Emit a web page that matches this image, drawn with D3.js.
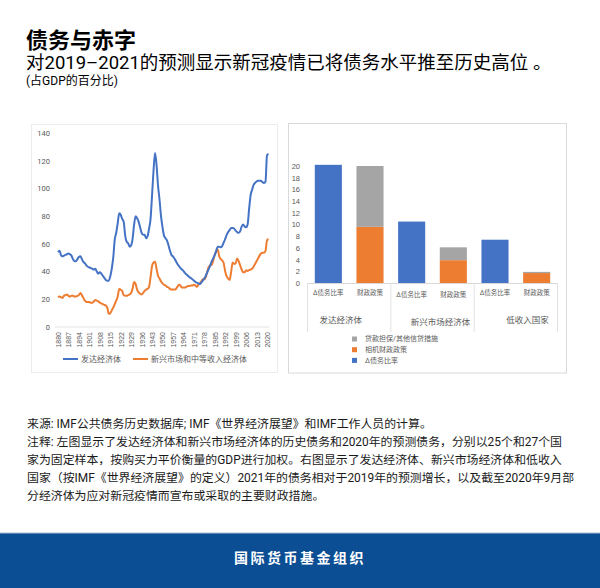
<!DOCTYPE html>
<html>
<head>
<meta charset="utf-8">
<script src="https://cdn.jsdelivr.net/npm/d3@7"></script>
<style>
  body { margin: 0; background: #fff; }
  svg { display: block; font-family: Roboto, 'Noto Sans CJK SC', sans-serif; }
</style>
</head>
<body>
<div id="chart"></div>
<script>
// left chart: public debt, % of GDP
const years = d3.range(1880, 2022);
const advanced = [
  54, 55, 52, 51, 51.5, 52, 52.5, 53, 52.5, 51.5,
  49, 47.5, 47.5, 49, 50.5, 51, 49, 47, 46, 44.5,
  43.5, 43, 42.5, 42, 41.5, 42, 40, 38.5, 39.5, 38.5,
  37, 35.5, 34, 33.3, 33.5, 36.5, 42, 50, 63, 68,
  75, 82, 81, 78, 76, 66, 61.5, 60.5, 58, 59,
  64, 74, 80, 78.5, 76, 72, 68, 66.5, 66.5, 64,
  65.5, 71, 78, 95, 113, 125.5, 117, 102, 92, 80,
  72, 66, 64, 62.5, 59, 55, 52, 51, 49.5, 47.5,
  45.5, 44, 42.5, 41.5, 40.5, 39, 38, 37, 36, 35.3,
  34.5, 33.5, 32.5, 32, 31.5, 31, 32, 33.5, 35, 37,
  39.5, 42, 44.5, 47.5, 49.5, 52, 55, 58, 58, 57.5,
  58.5, 61, 63.5, 66.5, 68.5, 70, 71.5, 71.5, 71, 69.5,
  68.5, 68, 69, 72.5, 74, 72.5, 72, 74, 85, 95,
  99, 102.5, 104, 105, 105.5, 105.5, 105.5, 104.5, 104, 105,
  124, 125
];
const emerging = [
  21.5, 22, 21.5, 21, 22.5, 23, 23.5, 22.5, 22, 22.5,
  22.5, 22, 22, 22.5, 23, 24.5, 23, 21, 19, 18,
  18, 18, 17.5, 17.5, 18.5, 19.5, 19, 18.5, 17.5, 17,
  16.5, 16, 15.5, 14, 9.5, 10, 12, 14, 16.5, 19,
  22, 27.5, 27, 26, 23, 22.5, 22.5, 23, 23.5, 24.5,
  28, 32.5, 31, 27, 25, 24, 23.5, 24.5, 26, 27,
  27.5, 29, 36, 44, 46.5, 47, 42, 37, 35, 33,
  31.5, 30.5, 30, 29, 28.5, 27.5, 27, 27, 27, 27.5,
  29, 30.5, 30, 28.5, 28.5, 28.5, 29, 29.5, 29.5, 30,
  30, 30.5, 30, 29, 30.5, 31.5, 33, 34.5, 34.5, 36,
  40, 43.5, 44.5, 45, 48, 52, 54.5, 56, 51, 49,
  48, 46, 40, 36.5, 35, 34, 40, 46.5, 45.5, 46,
  49.5, 47.5, 44.5, 41.5, 39.5, 39.5, 41, 40.5, 41, 41.5,
  42, 43.5, 45.5, 47.5, 49.5, 51.5, 53, 53.5, 53.5, 55,
  62.5, 63.5
];
const yearTicks = [1880, 1887, 1894, 1901, 1908, 1915, 1922, 1929, 1936, 1943,
  1950, 1957, 1964, 1971, 1978, 1985, 1992, 1999, 2006, 2013, 2020];
const debtTicks = [0, 20, 40, 60, 80, 100, 120, 140];
const lineNames = ['发达经济体', '新兴市场和中等收入经济体'];

// right chart: change in debt 2019-21 and fiscal measures
const groups = ['发达经济体', '新兴市场经济体', '低收入国家'];
const barLabels = ['Δ债务比率', '财政政策'];
const debtChange = [20.2, 10.5, 7.4];
const discretionary = [9.6, 3.9, 1.7];
const guarantees = [10.4, 2.2, 0.2];
const barTicks = [0, 2, 4, 6, 8, 10, 12, 14, 16, 18, 20];
const stackNames = ['Δ债务比率', '相机财政政策', '贷款担保/其他信贷措施'];

const notes = [
  '来源: IMF公共债务历史数据库; IMF《世界经济展望》和IMF工作人员的计算。',
  '注释: 左图显示了发达经济体和新兴市场经济体的历史债务和2020年的预测债务，分别以25个和27个国',
  '家为固定样本，按购买力平价衡量的GDP进行加权。右图显示了发达经济体、新兴市场经济体和低收入',
  '国家（按IMF《世界经济展望》的定义）2021年的债务相对于2019年的预测增长，以及截至2020年9月部',
  '分经济体为应对新冠疫情而宣布或采取的主要财政措施。'
];

const blue = '#4472c4';
const orange = '#ed7d31';
const grey = '#a5a5a5';
const axisText = '#595959';

const svg = d3.select('#chart').append('svg')
    .attr('width', 600)
    .attr('height', 588);

// header
svg.append('text')
    .attr('x', 26)
    .attr('y', 48)
    .attr('font-size', 22)
    .attr('font-weight', 'bold')
    .attr('fill', '#000')
    .text('债务与赤字');

svg.append('text')
    .attr('x', 26)
    .attr('y', 69)
    .attr('font-size', 18.5)
    .attr('fill', '#000')
    .text('对2019–2021的预测显示新冠疫情已将债务水平推至历史高位 。');

svg.append('text')
    .attr('x', 26)
    .attr('y', 85)
    .attr('font-size', 12)
    .attr('fill', '#000')
    .text('(占GDP的百分比)');

// ---- left chart ----
svg.append('rect')
    .attr('x', 31.5)
    .attr('y', 124.5)
    .attr('width', 246)
    .attr('height', 248)
    .attr('fill', '#fff')
    .attr('stroke', '#ececec');

const xLine = d3.scaleLinear()
    .domain([1880, 2021])
    .range([58, 268.5]);

const yLine = d3.scaleLinear()
    .domain([0, 140])
    .range([327, 133]);

const left = svg.append('g').attr('class', 'left-chart');

left.append('g')
    .attr('class', 'y axis')
    .attr('transform', 'translate(50, 0)')
    .call(d3.axisLeft(yLine).tickValues(debtTicks).tickSize(0).tickPadding(0))
    .call(g => g.select('.domain').remove())
  .selectAll('text')
    .attr('font-size', 7.5)
    .attr('fill', axisText)
    .attr('font-family', 'Roboto, sans-serif');

left.append('g')
    .attr('class', 'x axis')
    .attr('transform', `translate(0, ${yLine(0)})`)
    .call(d3.axisBottom(xLine).tickValues(yearTicks).tickSize(0).tickFormat(d3.format('d')))
    .call(g => g.select('.domain')
      .attr('d', `M${xLine(1880) - 3},0H${xLine(2021) + 1}`)
      .attr('stroke', '#e4e4e4'))
  .selectAll('text')
    .attr('font-size', 7)
    .attr('fill', axisText)
    .attr('transform', 'rotate(-90)')
    .attr('text-anchor', 'end')
    .attr('x', -5)
    .attr('y', 0)
    .attr('dy', '0.35em');

const line = d3.line()
    .x((d, i) => xLine(years[i]))
    .y(d => yLine(d))
    .curve(d3.curveMonotoneX);

left.append('path')
    .datum(emerging)
    .attr('fill', 'none')
    .attr('stroke', orange)
    .attr('stroke-width', 2)
    .attr('stroke-linejoin', 'round')
    .attr('d', line);

left.append('path')
    .datum(advanced)
    .attr('fill', 'none')
    .attr('stroke', blue)
    .attr('stroke-width', 2)
    .attr('stroke-linejoin', 'round')
    .attr('d', line);

const lineLegend = left.selectAll('.legend')
    .data(lineNames)
  .enter().append('g')
    .attr('class', 'legend')
    .attr('transform', (d, i) => `translate(${i === 0 ? 63 : 133}, 359)`);

lineLegend.append('line')
    .attr('x1', 0)
    .attr('x2', 15)
    .attr('stroke', (d, i) => (i === 0 ? blue : orange))
    .attr('stroke-width', 2);

lineLegend.append('text')
    .attr('x', 18)
    .attr('dy', '0.35em')
    .attr('font-size', 8)
    .attr('fill', axisText)
    .text(d => d);

// ---- right chart ----
svg.append('rect')
    .attr('x', 288.5)
    .attr('y', 123.5)
    .attr('width', 278)
    .attr('height', 249.5)
    .attr('fill', '#fff')
    .attr('stroke', '#d9d9d9');

const bars = [];
groups.forEach((g, i) => {
  bars.push({ id: `${i}-0`, group: g, label: barLabels[0], debt: debtChange[i], fiscal: 0, loans: 0 });
  bars.push({ id: `${i}-1`, group: g, label: barLabels[1], debt: 0, fiscal: discretionary[i], loans: guarantees[i] });
});

const xBar = d3.scaleBand()
    .domain(bars.map(d => d.id))
    .range([307.5, 557.5])
    .paddingInner(0.35)
    .paddingOuter(0.175);

const yBar = d3.scaleLinear()
    .domain([0, 20])
    .range([283, 166]);

const right = svg.append('g').attr('class', 'right-chart');

right.append('g')
    .attr('class', 'y axis')
    .attr('transform', 'translate(300, 0)')
    .call(d3.axisLeft(yBar).tickValues(barTicks).tickSize(0).tickPadding(0))
    .call(g => g.select('.domain').remove())
  .selectAll('text')
    .attr('font-size', 7.5)
    .attr('fill', axisText);

const stack = d3.stack().keys(['debt', 'fiscal', 'loans']);
const colors = { debt: blue, fiscal: orange, loans: grey };

right.selectAll('.series')
    .data(stack(bars))
  .enter().append('g')
    .attr('class', 'series')
    .attr('fill', d => colors[d.key])
  .selectAll('rect')
    .data(d => d.filter(p => p[1] > p[0]))
  .enter().append('rect')
    .attr('x', d => xBar(d.data.id))
    .attr('width', xBar.bandwidth())
    .attr('y', d => yBar(d[1]))
    .attr('height', d => yBar(d[0]) - yBar(d[1]));

// category axis with group separators
const groupW = xBar.step() * 2;
const x0 = xBar.range()[0];

right.append('line')
    .attr('x1', x0)
    .attr('x2', x0 + groupW * 3)
    .attr('y1', yBar(0) + 0.5)
    .attr('y2', yBar(0) + 0.5)
    .attr('stroke', '#d9d9d9');

right.selectAll('.sep')
    .data(d3.range(groups.length + 1))
  .enter().append('line')
    .attr('class', 'sep')
    .attr('x1', d => x0 + d * groupW)
    .attr('x2', d => x0 + d * groupW)
    .attr('y1', yBar(0))
    .attr('y2', 332)
    .attr('stroke', '#e2e2e2');

right.selectAll('.cat')
    .data(bars)
  .enter().append('text')
    .attr('class', 'cat')
    .attr('x', d => xBar(d.id) + xBar.bandwidth() / 2)
    .attr('y', (d, i) => (i === 2 || i === 3 ? 297 : 295))
    .attr('text-anchor', 'middle')
    .attr('font-size', 6.5)
    .attr('fill', axisText)
    .text(d => d.label);

right.selectAll('.grp')
    .data(groups)
  .enter().append('text')
    .attr('class', 'grp')
    .attr('x', (d, i) => x0 + i * groupW + 12)
    .attr('y', (d, i) => (i === 1 ? 325 : 323))
    .attr('font-size', 8.5)
    .attr('fill', axisText)
    .attr('dx', (d, i) => [0, 8, 20][i])
    .text(d => d);

const stackLegend = right.selectAll('.legend')
    .data(stackNames.slice().reverse())
  .enter().append('g')
    .attr('class', 'legend')
    .attr('transform', (d, i) => `translate(352, ${339 + i * 10.7})`);

stackLegend.append('rect')
    .attr('y', -2.5)
    .attr('width', 5)
    .attr('height', 5)
    .attr('fill', (d, i) => [grey, orange, blue][i]);

stackLegend.append('text')
    .attr('x', 13)
    .attr('dy', '0.35em')
    .attr('font-size', 7)
    .attr('fill', axisText)
    .text(d => d);

// notes
svg.append('g')
    .attr('class', 'notes')
  .selectAll('text')
    .data(notes)
  .enter().append('text')
    .attr('x', 27)
    .attr('y', (d, i) => 428 + i * 18)
    .attr('font-size', 11.9)
    .attr('fill', '#1a1a1a')
    .text(d => d);

// footer band
svg.append('rect')
    .attr('x', 0)
    .attr('y', 533)
    .attr('width', 600)
    .attr('height', 55)
    .attr('fill', '#0b4e93');

svg.append('line')
    .attr('x1', 0)
    .attr('x2', 600)
    .attr('y1', 533)
    .attr('y2', 533)
    .attr('stroke', '#a8bcd4');

svg.append('text')
    .attr('x', 300)
    .attr('y', 563)
    .attr('text-anchor', 'middle')
    .attr('font-size', 14)
    .attr('font-weight', 'bold')
    .attr('letter-spacing', 2.5)
    .attr('fill', '#fff')
    .text('国际货币基金组织');
</script>
</body>
</html>
